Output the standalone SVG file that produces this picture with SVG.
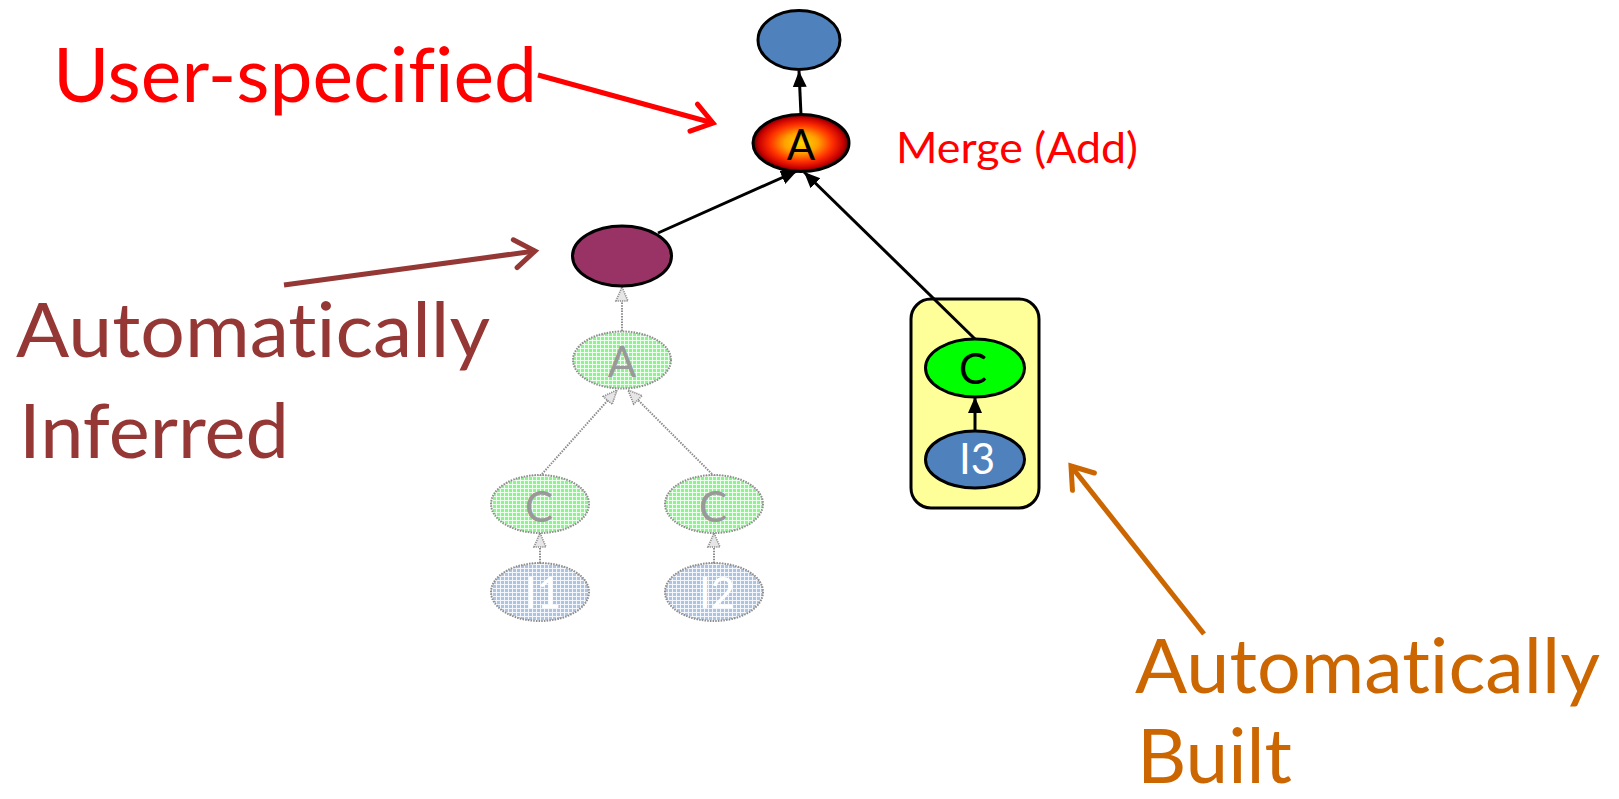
<svg xmlns="http://www.w3.org/2000/svg" width="1619" height="799" viewBox="0 0 1619 799">
  <style>
    text { font-variant-ligatures: none; font-feature-settings: "liga" 0, "clig" 0, "dlig" 0, "calt" 0; }
    .node { stroke: #000; stroke-width: 3; }
    .edge { stroke: #000; stroke-width: 3; fill: none; }
    .ghost { stroke: #8c8c8c; stroke-width: 2; stroke-dasharray: 1.5 1.2; }
    .ghost-edge { stroke: #8c8c8c; stroke-width: 2; stroke-dasharray: 1.5 1.2; fill: none; }
    .lbl { font-family: Lato, "Liberation Sans", sans-serif; text-anchor: middle; font-size: 42px; }
    .big { font-family: Lato, "Liberation Sans", sans-serif; font-size: 76px; }
  </style>
  <defs>
    <radialGradient id="fireGrad" cx="50%" cy="50%" r="50%">
      <stop offset="0" stop-color="#ffd800"/>
      <stop offset="0.35" stop-color="#ffa000"/>
      <stop offset="0.65" stop-color="#ff3000"/>
      <stop offset="0.88" stop-color="#c80000"/>
      <stop offset="1" stop-color="#5a0000"/>
    </radialGradient>
    <pattern id="ghostGreen" width="4" height="4" patternUnits="userSpaceOnUse">
      <rect width="4" height="4" fill="#8af58a"/>
      <path d="M0 0.5H4M0.5 0V4" stroke="#fff" stroke-width="1" opacity="0.85"/>
    </pattern>
    <pattern id="ghostBlue" width="4" height="4" patternUnits="userSpaceOnUse">
      <rect width="4" height="4" fill="#adc3e2"/>
      <path d="M0 0.5H4M0.5 0V4" stroke="#fff" stroke-width="1" opacity="0.85"/>
    </pattern>
    <marker id="arrowBlack" markerUnits="userSpaceOnUse" markerWidth="18" markerHeight="16" refX="16" refY="8" orient="auto">
      <path d="M0,1 L16,8 L0,15 Z" fill="#000"/>
    </marker>
    <marker id="arrowGhost" markerUnits="userSpaceOnUse" markerWidth="18" markerHeight="16" refX="15" refY="8" orient="auto">
      <path d="M1,2 L15,8 L1,14 Z" fill="#e6e6e6" stroke="#8c8c8c" stroke-width="1.6" stroke-dasharray="1.2 1"/>
    </marker>
    <marker id="chevRed" markerUnits="userSpaceOnUse" markerWidth="30" markerHeight="34" refX="24" refY="17" orient="auto">
      <path d="M4,3 L24,17 L4,31" fill="none" stroke="#ff0000" stroke-width="5" stroke-linecap="round"/>
    </marker>
    <marker id="chevBrown" markerUnits="userSpaceOnUse" markerWidth="30" markerHeight="34" refX="24" refY="17" orient="auto">
      <path d="M4,3 L24,17 L4,31" fill="none" stroke="#953735" stroke-width="5" stroke-linecap="round"/>
    </marker>
    <marker id="chevOrange" markerUnits="userSpaceOnUse" markerWidth="30" markerHeight="34" refX="24" refY="17" orient="auto">
      <path d="M4,3 L24,17 L4,31" fill="none" stroke="#cc6600" stroke-width="5" stroke-linecap="round"/>
    </marker>
  </defs>

  <rect width="1619" height="799" fill="#fff"/>

  <!-- built sub-graph container -->
  <g id="built-box">
    <rect x="911" y="299" width="128" height="209" rx="20" ry="20" fill="#ffff99" stroke="#000" stroke-width="3"/>
  </g>

  <!-- connectors -->
  <g id="connectors">
    <line class="edge" x1="801" y1="115" x2="799" y2="71" marker-end="url(#arrowBlack)"/>
    <line class="edge" x1="658" y1="233" x2="797" y2="171" marker-end="url(#arrowBlack)"/>
    <line class="edge" x1="975" y1="339" x2="804" y2="172" marker-end="url(#arrowBlack)"/>
    <line class="edge" x1="975" y1="431" x2="975" y2="397" marker-end="url(#arrowBlack)"/>
    <line class="ghost-edge" x1="622" y1="331" x2="622" y2="287" marker-end="url(#arrowGhost)"/>
    <line class="ghost-edge" x1="542" y1="474" x2="617" y2="390" marker-end="url(#arrowGhost)"/>
    <line class="ghost-edge" x1="712" y1="474" x2="628" y2="390" marker-end="url(#arrowGhost)"/>
    <line class="ghost-edge" x1="540" y1="563" x2="540" y2="533" marker-end="url(#arrowGhost)"/>
    <line class="ghost-edge" x1="714" y1="563" x2="714" y2="533" marker-end="url(#arrowGhost)"/>
  </g>

  <!-- nodes -->
  <g id="node-output">
    <ellipse class="node" cx="799" cy="40" rx="41" ry="29.5" fill="#4f81bd"/>
  </g>
  <g id="node-merge">
    <ellipse class="node" cx="801" cy="143" rx="48" ry="28.5" fill="url(#fireGrad)"/>
    <text class="lbl" x="801" y="160" fill="#000">A</text>
  </g>
  <g id="node-inferred">
    <ellipse class="node" cx="622" cy="256" rx="49.5" ry="30" fill="#993366"/>
  </g>
  <g id="node-ghost-a">
    <ellipse class="ghost" cx="622" cy="360" rx="49" ry="28.5" fill="url(#ghostGreen)"/>
    <text class="lbl" x="622" y="377" fill="#999">A</text>
  </g>
  <g id="node-ghost-c1">
    <ellipse class="ghost" cx="540" cy="504" rx="49" ry="29" fill="url(#ghostGreen)"/>
    <text class="lbl" x="539" y="522" fill="#999">C</text>
  </g>
  <g id="node-ghost-c2">
    <ellipse class="ghost" cx="714" cy="504" rx="49" ry="29" fill="url(#ghostGreen)"/>
    <text class="lbl" x="713" y="522" fill="#999">C</text>
  </g>
  <g id="node-ghost-i1">
    <ellipse class="ghost" cx="540" cy="592" rx="49" ry="29" fill="url(#ghostBlue)"/>
    <text class="lbl" x="543" y="608" fill="#fff">I1</text>
  </g>
  <g id="node-ghost-i2">
    <ellipse class="ghost" cx="714" cy="592" rx="49" ry="29" fill="url(#ghostBlue)"/>
    <text class="lbl" x="717" y="608" fill="#fff">I2</text>
  </g>
  <g id="node-c">
    <ellipse class="node" cx="975" cy="368" rx="49.5" ry="29" fill="#00ff00"/>
    <text class="lbl" x="973" y="384" fill="#000">C</text>
  </g>
  <g id="node-i3">
    <ellipse class="node" cx="975" cy="459.5" rx="49.5" ry="28.5" fill="#4f81bd"/>
    <text class="lbl" x="977" y="474" fill="#fff">I3</text>
  </g>

  <!-- annotations -->
  <g id="note-user">
    <text class="big" x="53" y="102" fill="#ff0000" textLength="484" lengthAdjust="spacingAndGlyphs">User-specified</text>
    <line x1="538" y1="75" x2="713" y2="123" stroke="#ff0000" stroke-width="5" marker-end="url(#chevRed)"/>
  </g>
  <g id="note-merge">
    <text x="896" y="163" fill="#ff0000" font-family="Lato, 'Liberation Sans', sans-serif" font-size="42" textLength="242" lengthAdjust="spacingAndGlyphs">Merge (Add)</text>
  </g>
  <g id="note-inferred">
    <line x1="284" y1="285" x2="535" y2="251" stroke="#953735" stroke-width="5" marker-end="url(#chevBrown)"/>
    <text class="big" x="16" y="357" fill="#953735" textLength="474" lengthAdjust="spacingAndGlyphs">Automatically</text>
    <text class="big" x="19" y="458" fill="#953735" textLength="270" lengthAdjust="spacingAndGlyphs">Inferred</text>
  </g>
  <g id="note-built">
    <line x1="1204" y1="634" x2="1071" y2="466" stroke="#cc6600" stroke-width="5" marker-end="url(#chevOrange)"/>
    <text class="big" x="1135" y="693" fill="#cc6600" textLength="465" lengthAdjust="spacingAndGlyphs">Automatically</text>
    <text class="big" x="1137" y="783" fill="#cc6600" textLength="155" lengthAdjust="spacingAndGlyphs">Built</text>
  </g>
</svg>
